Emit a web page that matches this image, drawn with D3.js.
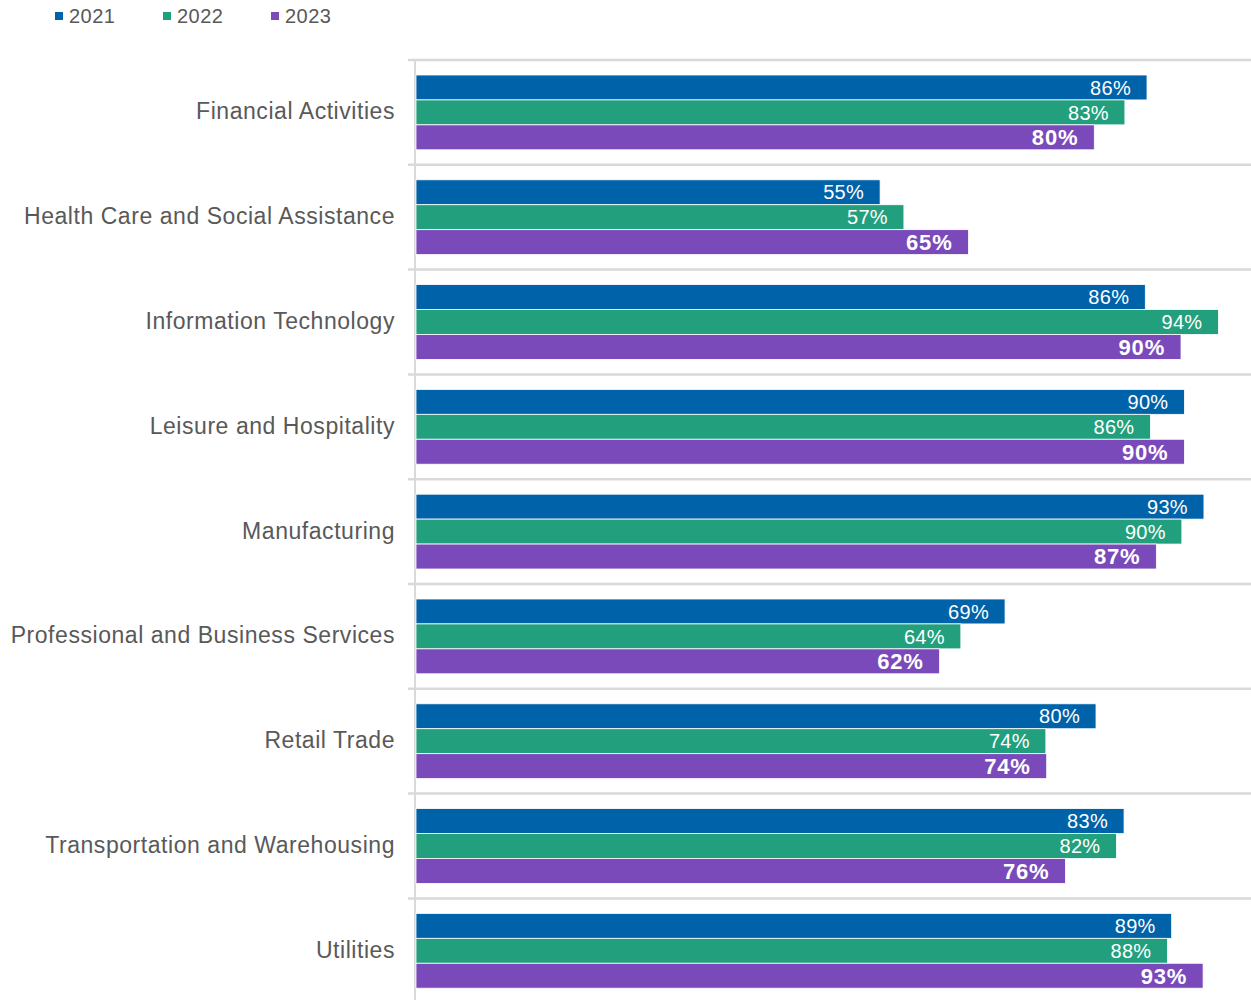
<!DOCTYPE html>
<html><head><meta charset="utf-8">
<script src="https://cdn.jsdelivr.net/npm/d3@7"></script>
<style>body{margin:0;background:#fff}svg{display:block}</style>
</head><body>
<svg id="chart" width="1251" height="1000"></svg>
<script>
const categories = ["Financial Activities","Health Care and Social Assistance","Information Technology","Leisure and Hospitality","Manufacturing","Professional and Business Services","Retail Trade","Transportation and Warehousing","Utilities"];
const seriesNames = ["2021","2022","2023"];
const values2021 = [86.0, 54.6, 85.8, 90.4, 92.7, 69.3, 80.0, 83.3, 88.9];
const values2022 = [83.4, 57.4, 94.4, 86.4, 90.1, 64.1, 74.1, 82.4, 88.4];
const values2023 = [79.8, 65.0, 90.0, 90.4, 87.1, 61.6, 74.2, 76.4, 92.6];
const colors = ["#0062A8","#22A07D","#7A4ABB"];

const allValues = [values2021, values2022, values2023];
const svg = d3.select("#chart");
const textGray = "#595959";
const gridGray = "#D9D9D9";
const font = "Liberation Sans, Arial, sans-serif";

const x = d3.scaleLinear().domain([0,100]).range([416,1266]);
const bandH = 104.8;
const y = d3.scaleBand().domain(categories).range([60, 60 + bandH*categories.length]).paddingInner(0).paddingOuter(0);
const yi = d3.scaleBand().domain(seriesNames).range([15, bandH-15]);

// gridlines at category boundaries
const bounds = categories.map(c => y(c)).concat([y(categories[categories.length-1]) + y.bandwidth()]);
svg.append("g").selectAll("line").data(bounds).join("line")
  .attr("x1", 408).attr("x2", 1251)
  .attr("y1", d => d).attr("y2", d => d)
  .attr("stroke", gridGray).attr("stroke-width", 2.5);

// vertical axis line
svg.append("line").attr("x1",415).attr("x2",415).attr("y1",60).attr("y2",1000)
  .attr("stroke", gridGray).attr("stroke-width", 2);

// bars
const rows = [];
categories.forEach((c,i) => seriesNames.forEach((s,j) => rows.push({c, s, j, v: allValues[j][i]})));
svg.append("g").selectAll("rect").data(rows).join("rect")
  .attr("x", x(0))
  .attr("y", d => y(d.c) + yi(d.s))
  .attr("width", d => x(d.v) - x(0))
  .attr("height", yi.bandwidth())
  .attr("fill", d => colors[d.j])
  .attr("stroke", "#ffffff").attr("stroke-width", 0.8);

// value labels
svg.append("g").selectAll("text").data(rows).join("text")
  .attr("x", d => x(d.v) - 16)
  .attr("y", d => y(d.c) + yi(d.s) + yi.bandwidth()/2)
  .attr("dy", "0.36em")
  .attr("text-anchor", "end")
  .attr("font-family", font)
  .attr("font-size", d => d.j === 2 ? 22 : 20)
  .attr("letter-spacing", d => d.j === 2 ? "0.8px" : "0.3px")
  .attr("font-weight", d => d.j === 2 ? "bold" : "normal")
  .attr("fill", "#ffffff")
  .text(d => d3.format(".0f")(d.v) + "%");

// category labels
svg.append("g").selectAll("text").data(categories).join("text")
  .attr("x", 395)
  .attr("y", d => y(d) + y.bandwidth()/2)
  .attr("dy", "0.3em")
  .attr("text-anchor", "end")
  .attr("font-family", font)
  .attr("font-size", 23)
  .attr("letter-spacing", "0.55px")
  .attr("fill", textGray)
  .text(d => d);

// legend
const lg = svg.append("g").selectAll("g").data(seriesNames).join("g")
  .attr("transform", (d,i) => `translate(${55 + i*108},0)`);
lg.append("rect").attr("x",0).attr("y",12).attr("width",8).attr("height",8).attr("fill",(d,i)=>colors[i]);
lg.append("text").attr("x",14).attr("y",16).attr("dy","0.36em")
  .attr("font-family",font).attr("font-size",20).attr("letter-spacing","0.5px")
  .attr("fill",textGray).text(d=>d);
</script>
</body></html>
